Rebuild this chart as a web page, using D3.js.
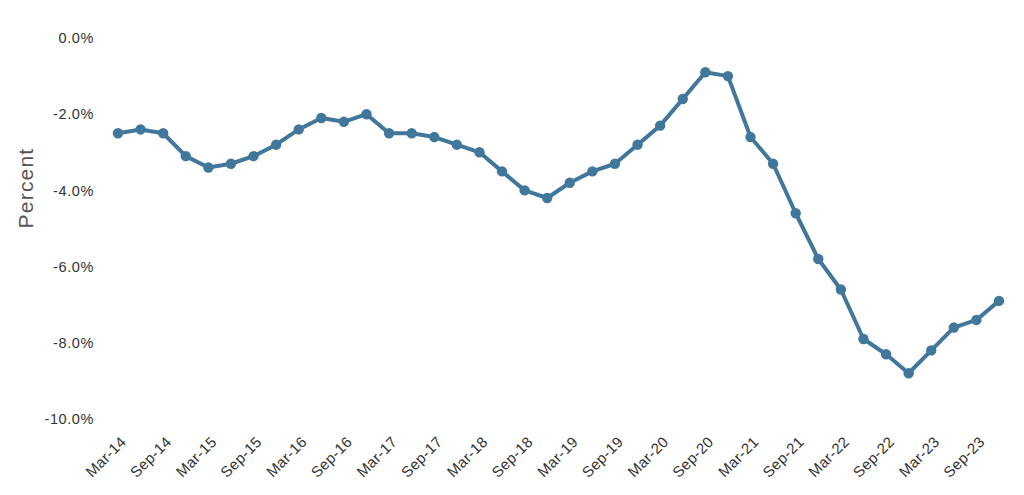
<!DOCTYPE html>
<html>
<head>
<meta charset="utf-8">
<script src="https://cdn.jsdelivr.net/npm/d3@7"></script>
<style>
  html, body { margin: 0; padding: 0; background: #fff; }
  svg { display: block; }
</style>
</head>
<body>
<svg id="chart" width="1024" height="495"></svg>
<script>
const quarters = [
  "Mar-14","Jun-14","Sep-14","Dec-14",
  "Mar-15","Jun-15","Sep-15","Dec-15",
  "Mar-16","Jun-16","Sep-16","Dec-16",
  "Mar-17","Jun-17","Sep-17","Dec-17",
  "Mar-18","Jun-18","Sep-18","Dec-18",
  "Mar-19","Jun-19","Sep-19","Dec-19",
  "Mar-20","Jun-20","Sep-20","Dec-20",
  "Mar-21","Jun-21","Sep-21","Dec-21",
  "Mar-22","Jun-22","Sep-22","Dec-22",
  "Mar-23","Jun-23","Sep-23","Dec-23"
];
const values = [
  -2.5, -2.4, -2.5, -3.1,
  -3.4, -3.3, -3.1, -2.8,
  -2.4, -2.1, -2.2, -2.0,
  -2.5, -2.5, -2.6, -2.8,
  -3.0, -3.5, -4.0, -4.2,
  -3.8, -3.5, -3.3, -2.8,
  -2.3, -1.6, -0.9, -1.0,
  -2.6, -3.3, -4.6, -5.8,
  -6.6, -7.9, -8.3, -8.8,
  -8.2, -7.6, -7.4, -6.9
];
const xTickLabels = quarters.filter((d, i) => i % 2 === 0);
const yTicks = [0, -2, -4, -6, -8, -10];
const yTitle = "Percent";

const svg = d3.select("#chart");
const x = d3.scalePoint().domain(quarters).range([118, 999]);
const y = d3.scaleLinear().domain([-10, 0]).range([419, 38]);

const font = "'Liberation Sans', Arial, sans-serif";

// Y axis
const yAxis = svg.append("g")
  .attr("transform", "translate(94,0)")
  .call(d3.axisLeft(y).tickValues(yTicks).tickSize(0).tickPadding(0)
    .tickFormat(d => d.toFixed(1) + "%"));
yAxis.select(".domain").remove();
yAxis.selectAll("text")
  .attr("font-family", font)
  .attr("font-size", 14.5)
  .attr("fill", "#333")
  .attr("letter-spacing", 0.6);

// X axis
const xAxis = svg.append("g")
  .attr("transform", "translate(0,426)")
  .call(d3.axisBottom(x).tickValues(xTickLabels).tickSize(0).tickPadding(0));
xAxis.select(".domain").remove();
xAxis.selectAll("text")
  .attr("font-family", font)
  .attr("font-size", 15)
  .attr("fill", "#333")
  .attr("letter-spacing", 0.4)
  .attr("text-anchor", "end")
  .attr("dy", "0.35em")
  .attr("y", 0)
  .attr("x", 0)
  .attr("transform", "translate(5,13) rotate(-45)");

// Y title
svg.append("text")
  .attr("transform", "translate(33,188) rotate(-90)")
  .attr("text-anchor", "middle")
  .attr("font-family", font)
  .attr("font-size", 21)
  .attr("letter-spacing", 1.2)
  .attr("fill", "#555")
  .text(yTitle);

const color = "#41779a";
const line = d3.line().x((d, i) => x(quarters[i])).y(d => y(d));
svg.append("path")
  .datum(values)
  .attr("d", line)
  .attr("fill", "none")
  .attr("stroke", color)
  .attr("stroke-width", 4)
  .attr("stroke-linejoin", "round");

svg.selectAll("circle.pt")
  .data(values)
  .enter().append("circle")
  .attr("class", "pt")
  .attr("cx", (d, i) => x(quarters[i]))
  .attr("cy", d => y(d))
  .attr("r", 5.2)
  .attr("fill", color);
</script>
</body>
</html>
